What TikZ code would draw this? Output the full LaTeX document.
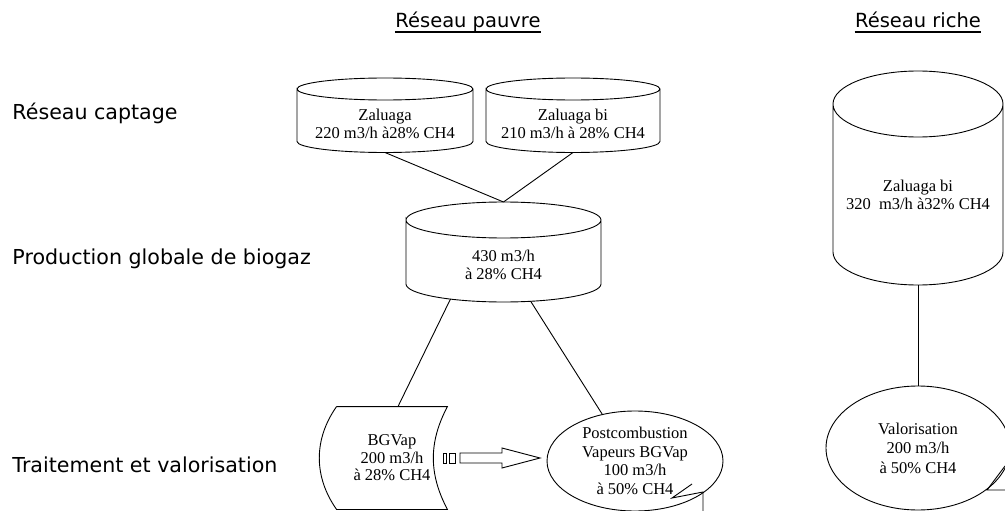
\documentclass[tikz,border=0pt]{standalone}
\usepackage{fontspec}
\setmainfont{Liberation Serif}
\newfontfamily\labelfont{DejaVu Sans}
\usetikzlibrary{calc,shapes.geometric}
\newcommand{\drawCyl}[5]{
    \draw ($(#1.center)+(-#2,#3)$) arc[start angle=180,end angle=-180,x radius=#2,y radius=#5]
        -- ($(#1.center)+(-#2,-#4)$) arc[start angle=180,end angle=360,x radius=#2,y radius=#5]
        -- ($(#1.center)+(#2,#3)$);
    \coordinate (#1-top) at ($(#1.center)+(0,#3+#5)$);
    \coordinate (#1-bot) at ($(#1.center)+(0,-#4-#5)$)
}
\newcommand{\drawStore}[1]{
    \draw (#1.north west) -- (#1.north east) to[bend right=28] (#1.south east)
        -- (#1.south west) to[bend left=35] (#1.north west)
}

\begin{document}
\begin{tikzpicture}[x=1pt,y=1pt,line width=0.9pt,
    tank/.style={align=center,inner sep=0pt,font=\fontsize{16.5}{17.5}\selectfont},
    rowlabel/.style={anchor=base west,inner sep=0pt,font=\labelfont\fontsize{20.6}{24}\selectfont},
    colhead/.style={anchor=base,inner sep=0pt,font=\labelfont\fontsize{19.5}{24}\selectfont}]
    \clip (0,0) rectangle (1005,-511);

    \node[colhead] (hpauvre) at (468,-28) {Réseau pauvre};
    \node[colhead] (hriche) at (918,-28) {Réseau riche};
    \draw[line width=1.1pt] ([yshift=-4pt]hpauvre.base west) -- ([yshift=-4pt]hpauvre.base east);
    \draw[line width=1.1pt] ([yshift=-4pt]hriche.base west) -- ([yshift=-4pt]hriche.base east);

    \node[rowlabel] (rcapt) at (12,-119) {Réseau captage};
    \node[rowlabel] (rprod) at (12,-264) {Production globale de biogaz};
    \node[rowlabel] (rtrait) at (12,-472) {Traitement et valorisation};

    \node[tank] (zal) at (385,-124) {Zaluaga\\220 m3/h à28\% CH4};
    \node[tank] (zalbi) at (573,-124) {Zaluaga bi\\210 m3/h à 28\% CH4};
    \node[tank] (prod) at (503.5,-265) {430 m3/h\\à 28\% CH4};
    \node[tank] (riche) at (918,-195) {Zaluaga bi\\320~ m3/h à32\% CH4};

    \drawCyl{zal}{88}{35}{17.5}{11};
    \drawCyl{zalbi}{87}{35}{17.5}{11};
    \drawCyl{prod}{97.5}{45}{19}{18};
    \drawCyl{riche}{85}{91}{57}{33};

    \node[tank,minimum width=110,minimum height=102] (bgvap) at (392,-458) {BGVap\\200 m3/h\\à 28\% CH4};
    \drawStore{bgvap};

    \node[tank,ellipse,draw,minimum width=176,minimum height=100,font=\fontsize{16.5}{18.7}\selectfont] (post) at (635,-461) {Postcombustion\\Vapeurs BGVap\\100 m3/h\\à 50\% CH4};
    \node[tank,ellipse,draw,minimum width=184,minimum height=124,font=\fontsize{16.5}{19.5}\selectfont] (valo) at (918,-448) {Valorisation\\200 m3/h\\à 50\% CH4};

    \draw (zal-bot) -- (prod-top);
    \draw (zalbi-bot) -- (prod-top);
    \draw ([xshift=-53pt,yshift=3pt]prod-bot) -- ([xshift=6pt]bgvap.north);
    \draw ([xshift=27pt,yshift=1pt]prod-bot) -- (post.125);
    \draw (riche-bot) -- (valo.north);

    \draw (443,-453) rectangle (446,-463);
    \draw (449,-453) rectangle (455,-463);
    \draw (460,-453) -- (502,-453) -- (502,-448) -- (540,-458) -- (502,-468) -- (502,-463) -- (460,-463) -- cycle;

    \draw (692,-484) -- (672,-498) -- (703,-492) -- (703,-511);
    \draw (1005,-466) -- (987,-490) -- (1005,-490);
\end{tikzpicture}
\end{document}
